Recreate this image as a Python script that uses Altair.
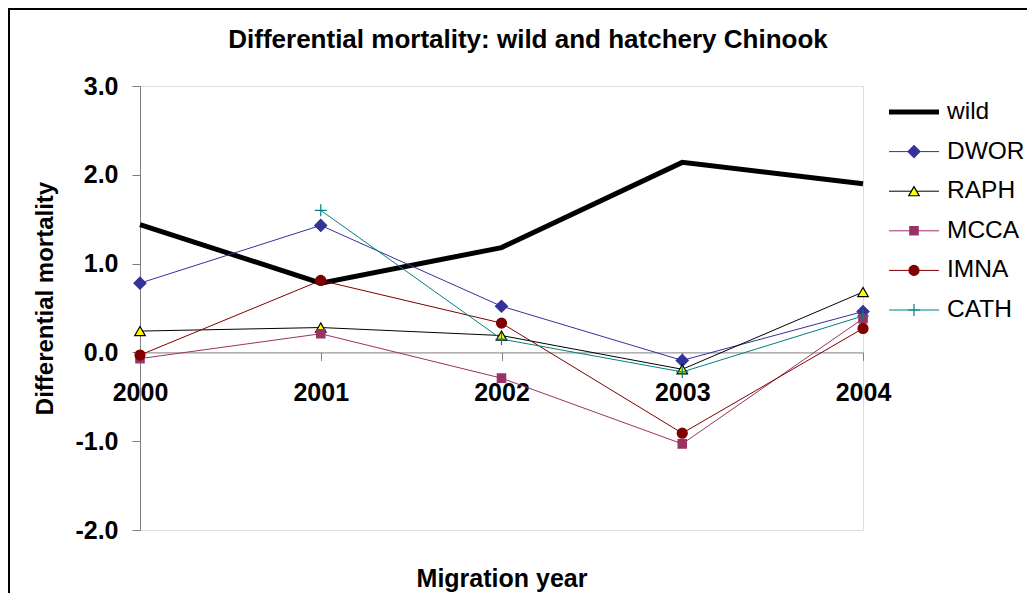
import altair as alt
import pandas as pd

FONT = "Arial, Liberation Sans, sans-serif"

years = [2000, 2001, 2002, 2003, 2004]
series_names = ["wild", "DWOR", "RAPH", "MCCA", "IMNA", "CATH"]
marker_series = ["DWOR", "RAPH", "MCCA", "IMNA", "CATH"]

wild = [1.44, 0.78, 1.18, 2.14, 1.90]
dwor = [0.78, 1.43, 0.52, -0.09, 0.46]
raph = [0.24, 0.28, 0.19, -0.19, 0.68]
mcca = [-0.07, 0.21, -0.29, -1.03, 0.38]
imna = [-0.03, 0.81, 0.33, -0.91, 0.27]
cath = [None, 1.60, 0.15, -0.22, 0.41]

y_ticks = [-2, -1, 0, 1, 2, 3]

line_colors = ["#000000", "#333399", "#000000", "#993366", "#800000", "#008080"]
line_widths = [5, 1, 1, 1, 1, 1]
marker_fill = ["#333399", "#FFFF00", "#993366", "#800000", "transparent"]
marker_stroke = ["#333399", "#000000", "#993366", "#800000", "#008080"]
marker_shape = ["diamond", "triangle-up", "square", "circle", "M-1,0H1M0,-1V1"]
marker_size = [144, 110, 70, 100, 144]

values = {"wild": wild, "DWOR": dwor, "RAPH": raph, "MCCA": mcca, "IMNA": imna, "CATH": cath}
rows = []
for s in series_names:
    for yr, v in zip(years, values[s]):
        if v is not None:
            rows.append({"year": yr, "series": s, "value": v})
df = pd.DataFrame(rows)
mdf = df[df["series"] != "wild"]

W, H = 723, 444
zero_y = H * 3 / 5

color_scale = alt.Scale(domain=series_names, range=line_colors)
width_scale = alt.Scale(type="ordinal", domain=series_names, range=line_widths)
fill_scale = alt.Scale(domain=marker_series, range=marker_fill)
stroke_scale = alt.Scale(domain=marker_series, range=marker_stroke)
shape_scale = alt.Scale(domain=marker_series, range=marker_shape)
size_scale = alt.Scale(type="ordinal", domain=marker_series, range=marker_size)

x_enc = alt.X(
    "year:Q",
    scale=alt.Scale(domain=[2000, 2004], nice=False, zero=False),
    axis=alt.Axis(
        values=years, format="d", title="Migration year",
        titleFont=FONT, titleFontSize=25, titleFontWeight="bold", titleColor="black",
        titleX=W / 2, titleY=234, titleBaseline="alphabetic", titleAlign="center",
        labelFont=FONT, labelFontSize=25, labelFontWeight="bold", labelColor="black",
        labelPadding=20, labelFlush=False, labelOverlap=False,
        tickSize=8, tickColor="#808080", domainColor="#808080",
        grid=False, offset=-(H - zero_y),
    ),
)
y_enc = alt.Y(
    "value:Q",
    scale=alt.Scale(domain=[-2, 3], nice=False, zero=False),
    axis=alt.Axis(
        values=y_ticks, title="Differential mortality",
        labelExpr="(datum.value < 0 ? '-' : '') + format(abs(datum.value), '.1f')",
        titleFont=FONT, titleFontSize=24, titleFontWeight="bold", titleColor="black",
        titleX=-95, titleY=212, titleAngle=270, titleBaseline="middle", titleAlign="center",
        labelFont=FONT, labelFontSize=25, labelFontWeight="bold", labelColor="black",
        labelPadding=14, labelFlush=False, labelOverlap=False,
        tickSize=8, tickColor="#808080", domainColor="#808080", grid=False,
    ),
)

lines = alt.Chart(df).mark_line().encode(
    x=x_enc, y=y_enc,
    color=alt.Color("series:N", scale=color_scale, legend=None),
    strokeWidth=alt.StrokeWidth("series:N", scale=width_scale, legend=None),
)

points = alt.Chart(mdf).mark_point(opacity=1, strokeWidth=1.2).encode(
    x="year:Q", y="value:Q",
    fill=alt.Fill("series:N", scale=fill_scale, legend=None),
    stroke=alt.Stroke("series:N", scale=stroke_scale, legend=None),
    shape=alt.Shape("series:N", scale=shape_scale, legend=None),
    size=alt.Size("series:N", scale=size_scale, legend=None),
)

one = pd.DataFrame({"k": [0]})
frame_v = alt.Chart(one).mark_rule(color="black", strokeWidth=2).encode(
    x=alt.value(-131), y=alt.value(-77), y2=alt.value(515)
)
frame_h = alt.Chart(one).mark_rule(color="black", strokeWidth=2).encode(
    x=alt.value(-132), x2=alt.value(887), y=alt.value(-77)
)

main = alt.layer(frame_v, frame_h, lines, points)

# custom legend, positioned through its own scales
leg = pd.DataFrame({"series": series_names})
legm = pd.DataFrame({"series": marker_series})
lx_scale = alt.Scale(domain=[0, 1], range=[749, 799])
ly = alt.Y("series:N", scale=alt.Scale(type="point", domain=series_names, range=[26, 224], padding=0), axis=None)

leg_rule = alt.Chart(leg).mark_rule().encode(
    x=alt.XDatum(0, type="quantitative", scale=lx_scale, axis=None),
    x2=alt.X2Datum(1),
    y=ly,
    color=alt.Color("series:N", scale=color_scale, legend=None),
    strokeWidth=alt.StrokeWidth("series:N", scale=width_scale, legend=None),
)
leg_pts = alt.Chart(legm).mark_point(opacity=1, strokeWidth=1.2).encode(
    x=alt.XDatum(0.5, type="quantitative", scale=lx_scale, axis=None),
    y=ly,
    fill=alt.Fill("series:N", scale=fill_scale, legend=None),
    stroke=alt.Stroke("series:N", scale=stroke_scale, legend=None),
    shape=alt.Shape("series:N", scale=shape_scale, legend=None),
    size=alt.Size("series:N", scale=size_scale, legend=None),
)
leg_text = alt.Chart(leg).mark_text(
    align="left", baseline="middle", dx=8, font=FONT, fontSize=24.5, color="black"
).encode(
    x=alt.XDatum(1, type="quantitative", scale=lx_scale, axis=None),
    y=ly,
    text="series:N",
)
legend = alt.layer(leg_rule, leg_pts, leg_text)

chart = (
    alt.layer(main, legend)
    .resolve_scale(x="independent", y="independent")
    .properties(
        width=W, height=H,
        title=alt.TitleParams(
            "Differential mortality: wild and hatchery Chinook",
            font=FONT, fontSize=26, fontWeight="bold", color="black",
            anchor="middle", frame="group", dx=26.5, baseline="alphabetic",
            offset=0, dy=66,
        ),
        autosize=alt.AutoSizeParams(type="none"),
        padding={"left": 132, "top": 78, "right": 164, "bottom": 63},
    )
    .configure_view(strokeWidth=0)
    .configure(background="white")
)

chart.save("out.html", embed_options={"renderer": "svg", "actions": False})
